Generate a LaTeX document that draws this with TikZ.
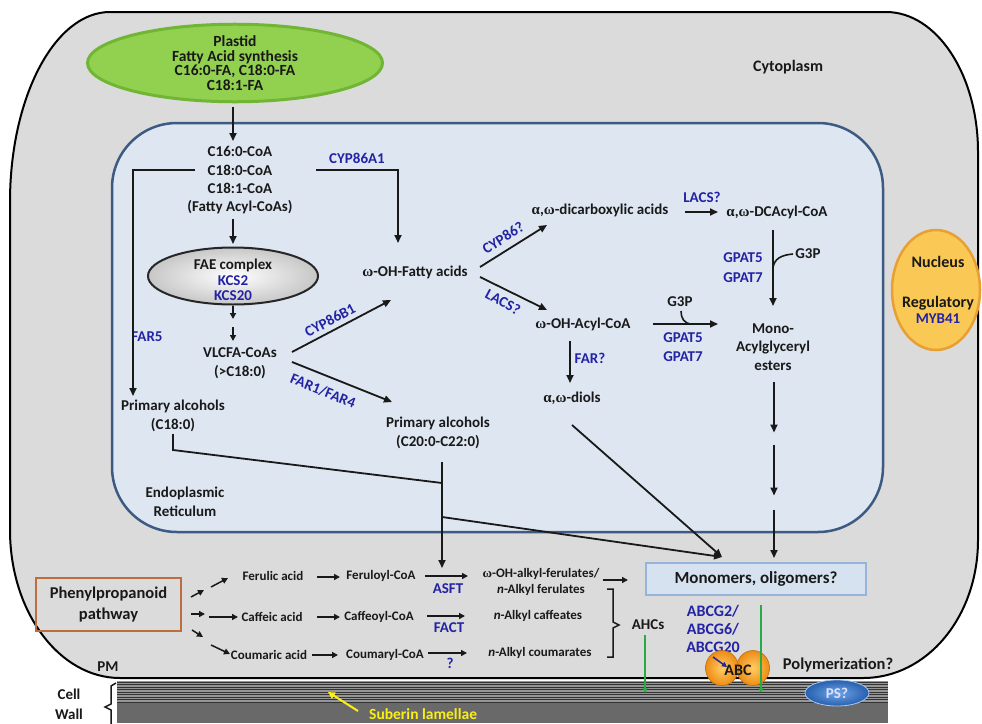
\documentclass[tikz,border=0pt]{standalone}
\usepackage{fontspec}
\setmainfont{Carlito}
\newfontfamily\grk{Liberation Serif}
\usetikzlibrary{arrows.meta,shapes.geometric,calc}
\definecolor{txt}{RGB}{25,25,25}
\definecolor{enzb}{RGB}{35,35,165}
\definecolor{cyto}{RGB}{219,219,219}
\definecolor{erfill}{RGB}{222,231,241}
\definecolor{erline}{RGB}{60,90,130}
\definecolor{plfill}{RGB}{146,208,80}
\definecolor{plline}{RGB}{112,182,52}
\definecolor{monofill}{RGB}{214,226,240}
\definecolor{monoline}{RGB}{150,180,215}
\definecolor{phline}{RGB}{190,110,60}
\definecolor{nucfill}{RGB}{250,200,85}
\definecolor{nucline}{RGB}{232,160,50}
\definecolor{grn}{RGB}{40,170,70}
\definecolor{yel}{RGB}{250,240,20}
\definecolor{wallstripe}{RGB}{150,150,150}
\definecolor{walldark}{RGB}{105,105,105}
\definecolor{abcor}{RGB}{238,140,20}
\definecolor{abclt}{RGB}{255,205,100}
\definecolor{psblue}{RGB}{40,95,175}
\definecolor{pslt}{RGB}{110,165,230}
\newcommand{\myal}{{\grk α}}
\newcommand{\myom}{{\grk ω}}
\begin{document}
\begin{tikzpicture}[x=1pt,y=-1pt,
  lbl/.style={font=\fontsize{15}{18.5}\selectfont\bfseries,text=txt,align=center,inner sep=0pt},
  enz/.style={lbl,text=enzb},
  sm/.style={font=\fontsize{13}{16}\selectfont\bfseries,text=txt,align=center,inner sep=0pt},
  arr/.style={draw=txt,line width=1.8pt,-{Triangle[length=8pt,width=7pt]}},
  sarr/.style={draw=txt,line width=1.5pt,-{Triangle[length=6pt,width=6pt]}},
  ln/.style={draw=txt,line width=1.8pt},
  garr/.style={draw=grn,line width=1.5pt,-{Triangle[length=5pt,width=5pt]}},
  abcball/.style={ellipse,inner color=abclt,outer color=abcor,draw=abcor!80!black,line width=0.6pt,minimum width=33pt,minimum height=35pt,inner sep=0pt}
]
\useasboundingbox (0,0) rectangle (982,723);
\fill[white] (0,0) rectangle (982,723);

% cell wall
\fill[walldark] (117,681) rectangle (888,723);
\fill[wallstripe] (117,681) rectangle (888,703);
\foreach \yy in {682,684.5,...,702} \draw[line width=0.9pt,black!80] (117,\yy) -- (888,\yy);

% cell (cytoplasm)
\filldraw[fill=cyto,draw=black,line width=2pt] (10,530) -- (10,202) .. controls (10,97.1) and (54.8,12) .. (110,12) -- (886,12) .. controls (936.8,12) and (978,74.7) .. (978,152) -- (978,540) .. controls (978,616.2) and (927.6,678) .. (863,678) -- (120,678) .. controls (59.2,678) and (10,611.7) .. (10,530) -- cycle;

% ER
\filldraw[fill=erfill,draw=erline,line width=2.5pt,rounded corners=65pt] (112,123) rectangle (883,532);

% labels of compartments
\node[lbl,font=\fontsize{16}{19}\selectfont\bfseries] (cyto) at (788,67) {Cytoplasm};
\node[lbl] (er) at (185,502) {Endoplasmic\\Reticulum};
\node[lbl] (pm) at (108,667) {PM};
\node[lbl] (cell) at (69,694) {Cell};
\node[lbl] (wall) at (69,714) {Wall};
\draw[ln,line width=1.5pt] ($(cell)+(47,-11)$) -- ++(-5,3) -- ++(0,18) -- ++(-6,3) -- ++(6,3) -- ++(0,16);

% plastid
\node[ellipse,fill=plfill,draw=plline,line width=3pt,minimum width=295pt,minimum height=73pt,inner sep=0pt,
  font=\fontsize{15.5}{14.6}\selectfont\bfseries,text=txt,align=center] (plastid) at (235,63)
  {Plastid\\Fatty Acid synthesis\\C16:0-FA, C18:0-FA\\C18:1-FA};

% acyl-CoAs
\node[lbl] (c16) at (240,151) {C16:0-CoA};
\node[lbl] (c18) at (240,170) {C18:0-CoA};
\node[lbl] (c181) at (240,188) {C18:1-CoA};
\node[lbl] (facoa) at (240,207) {(Fatty Acyl-CoAs)};
\node[enz] (cyp86a1) at (357,158) {CYP86A1};

% FAE complex
\node[ellipse,draw=black!85,line width=2pt,inner color=white,outer color=black!22,minimum width=170pt,minimum height=57pt] (fae) at (233,276) {};
\node[lbl] (faet) at (233,265) {FAE complex};
\node[enz] (kcs2) at (233,281) {KCS2};
\node[enz] (kcs20) at (233,296) {KCS20};
\coordinate (mid) at (233,323);
\node[lbl] (vlcfa) at (240,363) {VLCFA-CoAs\\(>C18:0)};
\node[enz] (far5) at (147,337) {FAR5};
\node[lbl] (pa18) at (173,416) {Primary alcohols\\(C18:0)};
\node[enz,rotate=28] (cyp86b1) at (330,320) {CYP86B1};
\node[enz,rotate=-22] (far14) at (323,391) {FAR1/FAR4};
\node[lbl] (pa20) at (438,433) {Primary alcohols\\(C20:0-C22:0)};

% omega-OH branch
\node[lbl] (ohfa) at (415,272) {\myom-OH-Fatty acids};
\node[enz,rotate=32] (cyp86q) at (503,238) {CYP86?};
\node[enz,rotate=-28] (lacsq1) at (503,302) {LACS?};
\node[lbl] (dca) at (600,210) {\myal,\myom-dicarboxylic acids};
\node[enz] (lacsq2) at (702,197) {LACS?};
\node[lbl] (dcacoa) at (777,212) {\myal,\myom-DCAcyl-CoA};
\node[enz,font=\fontsize{15}{20}\selectfont\bfseries] (gp1) at (743,268) {GPAT5\\GPAT7};
\node[lbl] (g3pa) at (808,254) {G3P};
\node[lbl] (ohacoa) at (583,324) {\myom-OH-Acyl-CoA};
\node[lbl] (g3pb) at (680,302) {G3P};
\node[enz] (gp2) at (683,347) {GPAT5\\GPAT7};
\node[lbl] (mag) at (773,347) {Mono-\\Acylglyceryl\\esters};
\node[enz] (farq) at (590,358) {FAR?};
\node[lbl] (diols) at (572,398) {\myal,\myom-diols};
\coordinate (m1) at (774,438.5);
\coordinate (m2) at (774,502.5);
\coordinate (j1) at (442,483);
\coordinate (j2) at (442,517);
\coordinate (conv) at (722,557);

% nucleus
\node[ellipse,fill=nucfill,draw=nucline,line width=2.5pt,minimum width=88pt,minimum height=120pt] (nuc) at (936,290) {};
\node[lbl,font=\fontsize{16}{19}\selectfont\bfseries] (nuct) at (938,262) {Nucleus};
\node[lbl,font=\fontsize{16}{19}\selectfont\bfseries] (regt) at (938,303) {Regulatory};
\node[enz] (myb) at (938,319) {MYB41};

% monomers
\node[draw=monoline,fill=monofill,line width=1.2pt,minimum width=220pt,minimum height=32pt,
  font=\fontsize{17}{20}\selectfont\bfseries,text=txt] (mono) at (756,579) {Monomers, oligomers?};

% phenylpropanoid
\node[draw=phline,line width=1.5pt,minimum width=145pt,minimum height=53pt,align=center,
  font=\fontsize{16.5}{21}\selectfont\bfseries,text=txt] (phenyl) at (108.5,604.5) {Phenylpropanoid\\pathway};
\coordinate (pfm) at (207.5,588.5);
\coordinate (pcm) at (207,615.5);
\coordinate (pkm) at (207,641);
\node[sm] (ferulic) at (273,576) {Ferulic acid};
\node[sm] (feruloyl) at (381,576) {Feruloyl-CoA};
\node[sm] (ohalkyl) at (541,581.5) {\myom-OH-alkyl-ferulates/\\\textit{n}-Alkyl ferulates};
\node[sm] (caffeic) at (272,617) {Caffeic acid};
\node[sm] (caffeoyl) at (379,617) {Caffeoyl-CoA};
\node[sm] (caffeates) at (538,616) {\textit{n}-Alkyl caffeates};
\node[sm] (coumaric) at (269,655) {Coumaric acid};
\node[sm] (coumaryl) at (385,655) {Coumaryl-CoA};
\node[sm] (coumarates) at (540,653) {\textit{n}-Alkyl coumarates};
\node[enz] (asft) at (448,589) {ASFT};
\node[enz] (fact) at (449,628) {FACT};
\node[enz] (qm) at (450,663) {?};
\node[lbl] (ahcs) at (648,625) {AHCs};
\draw[ln,line width=1.5pt] ($(ahcs)+(-41,-36)$) -- ++(6,0) -- ++(0,33) -- ++(6,3) -- ++(-6,3) -- ++(0,29) -- ++(-6,0);

% transporters
\node[enz,font=\fontsize{16}{18}\selectfont\bfseries] (abcg) at (713,629) {ABCG2/\\ABCG6/\\ABCG20};
\node[abcball] (abc2) at (753,668) {};
\node[abcball] (abc1) at (722,668) {};
\node[lbl,font=\fontsize{16}{19}\selectfont\bfseries] (abct) at (738,670) {ABC};
\node[lbl,font=\fontsize{16.5}{19}\selectfont\bfseries] (poly) at (838,665) {Polymerization?};
\node[ellipse,inner color=pslt,outer color=psblue,draw=pslt!60!white,line width=0.8pt,minimum width=64pt,minimum height=26pt,inner sep=0pt,
  font=\fontsize{15}{18}\selectfont\bfseries,text=blue!12] (ps) at (837,693) {PS?};
\coordinate (gA) at (645,693);
\coordinate (gB) at (761,693);
\node[font=\fontsize{15.5}{18}\selectfont\bfseries,text=yel,anchor=west,inner sep=0pt] (sub) at (369,714) {Suberin lamellae};
\coordinate (yeltip) at (328,692);

% ---------- connectors ----------
\draw[arr] ($(plastid)+(-2,44)$) -- ($(c16)+(-7,-10)$);
\draw[arr] ($(c18)+(-45,0)$) -| ($(pa18)+(-40,-20)$);
\draw[arr] ($(c18)+(76,0)$) -| ($(ohfa)+(-17,-29)$);
\draw[arr] ($(facoa)+(-7,12)$) -- ($(fae)+(0,-32)$);
\draw[sarr] ($(fae)+(0,30)$) -- ($(mid)+(0,-4)$);
\draw[sarr] ($(mid)+(0,4)$) -- ($(vlcfa)+(-7,-22)$);
\draw[arr] ($(vlcfa)+(52,-11)$) -- ($(ohfa)+(-24,28)$);
\draw[arr] ($(vlcfa)+(52,-1)$) -- ($(pa20)+(-46,-31)$);
\draw[ln] ($(pa18)+(0,18)$) -- ($(pa18)+(0,34)$) -- (j1);
\draw[arr] ($(pa20)+(4,29)$) -- ($(pa20)+(4,135)$);
\draw[arr] (j2) -- (conv);
\draw[arr] ($(diols)+(0,27)$) -- (conv);
\draw[arr] ($(mag)+(1,35)$) -- ($(m1)+(0,-6)$);
\draw[arr] ($(m1)+(0,6)$) -- ($(m2)+(0,-7)$);
\draw[arr] ($(m2)+(0,7)$) -- ($(mono)+(18,-21)$);
\draw[arr] ($(ohfa)+(65,-5)$) -- ($(dca)+(-53,15)$);
\draw[arr] ($(ohfa)+(65,5)$) -- ($(ohacoa)+(-36,-14)$);
\draw[arr] ($(dca)+(85,2)$) -- ($(dcacoa)+(-59,0)$);
\draw[arr] ($(dcacoa)+(-4,18)$) -- ($(mag)+(0,-41)$);
\draw[ln,line width=1.6pt] ($(g3pa)+(-15,0)$) .. controls ($(g3pa)+(-27,1)$) and ($(g3pa)+(-34,5)$) .. ($(g3pa)+(-35,14)$);
\draw[arr] ($(ohacoa)+(70,0)$) -- ($(mag)+(-55,-23)$);
\draw[ln,line width=1.6pt] ($(g3pb)+(1,9)$) .. controls ($(g3pb)+(1,16)$) and ($(g3pb)+(4,22)$) .. ($(g3pb)+(12,22)$);
\draw[arr] ($(ohacoa)+(-13,17)$) -- ($(diols)+(-2,-15)$);

\draw[sarr] ($(phenyl)+(82.5,-7.5)$) -- ($(pfm)+(-3.5,1.5)$);
\draw[sarr] ($(pfm)+(3.5,-1.5)$) -- ($(ferulic)+(-45,2)$);
\draw[sarr] ($(phenyl)+(82.5,9.5)$) -- ($(pcm)+(-2,-1.5)$);
\draw[sarr] ($(pcm)+(2,1.5)$) -- ($(caffeic)+(-34,0)$);
\draw[sarr] ($(phenyl)+(83.5,25.5)$) -- ($(pkm)+(-4,-4)$);
\draw[sarr] ($(pkm)+(4,4)$) -- ($(coumaric)+(-39,-1)$);
\draw[sarr] ($(ferulic)+(44,1)$) -- ($(feruloyl)+(-41,1)$);
\draw[sarr] ($(feruloyl)+(44,0)$) -- ($(ohalkyl)+(-73,-5.5)$);
\draw[sarr] ($(ohalkyl)+(62,-1.5)$) -- ($(mono)+(-128,1)$);
\draw[sarr] ($(caffeic)+(45,0)$) -- ($(caffeoyl)+(-39,0)$);
\draw[sarr] ($(caffeoyl)+(48,-1)$) -- ($(caffeates)+(-73,0)$);
\draw[sarr] ($(coumaric)+(43,0)$) -- ($(coumaryl)+(-47,0)$);
\draw[sarr] ($(coumaryl)+(43,-2)$) -- ($(coumarates)+(-73,0)$);

\draw[garr] ($(ahcs)+(-3,10)$) -- (gA);
\draw[garr] ($(mono)+(5,26)$) -- (gB);
\draw[draw=enzb,line width=1.5pt,-{Triangle[length=5pt,width=5pt]}] ($(abcg)+(0,28)$) -- ($(abc1)+(5,-1)$);
\draw[draw=yel,line width=2pt,-{Triangle[length=7pt,width=7pt]}] ($(sub.west)+(-11,-3)$) -- (yeltip);
\end{tikzpicture}
\end{document}
